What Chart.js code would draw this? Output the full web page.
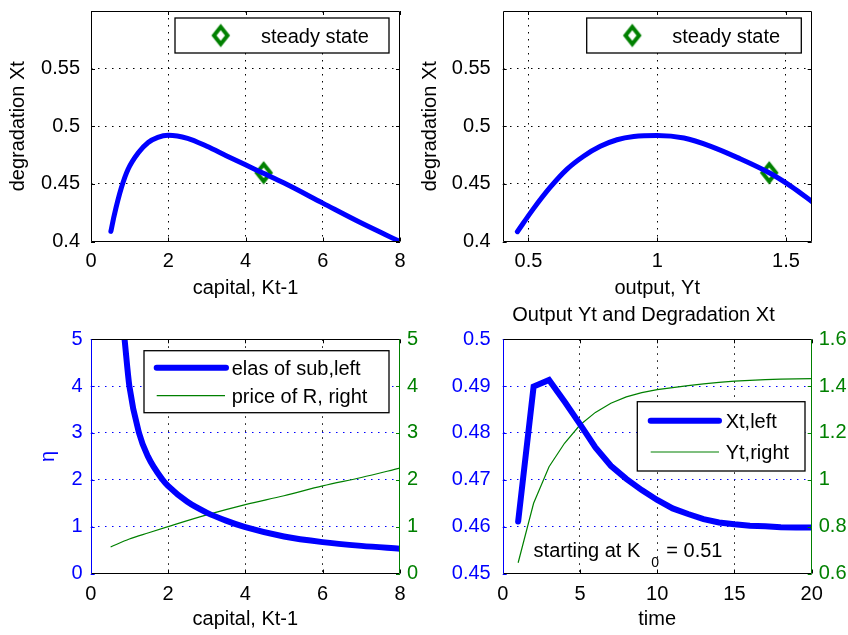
<!DOCTYPE html>
<html><head><meta charset="utf-8">
<script src="https://cdn.jsdelivr.net/npm/chart.js@4.4.1/dist/chart.umd.min.js"></script>
<style>
html,body{margin:0;padding:0;background:#fff;}
body{width:848px;height:635px;position:relative;overflow:hidden}
canvas{position:absolute}
</style></head><body>
<canvas id="c1" width="424" height="300" style="left:0px;top:0px"></canvas>
<canvas id="c2" width="438" height="300" style="left:410px;top:0px"></canvas>
<canvas id="c3" width="424" height="335" style="left:0px;top:300px"></canvas>
<canvas id="c4" width="409" height="335" style="left:439px;top:300px"></canvas>
<script>
// ---------- data ----------
// Panel 1: degradation Xt vs capital Kt-1
const capitalK      = [0.515, 0.6, 0.79, 0.96, 1.22, 1.48, 1.73, 2.0, 2.5, 3.0, 3.5, 4.0, 4.45, 5, 6, 7, 8];
const degradationX  = [0.4088, 0.4225, 0.447, 0.4627, 0.4768, 0.4859, 0.4904, 0.4922, 0.4895, 0.4826, 0.4745, 0.4665, 0.4594, 0.4507, 0.4333, 0.416, 0.4];
const steadyK = [4.47];
const steadyX = [0.4596];
// Panel 2: degradation Xt vs output Yt
const outputY       = [0.457, 0.519, 0.584, 0.649, 0.714, 0.779, 0.844, 0.909, 1.0, 1.104, 1.208, 1.312, 1.435, 1.52, 1.604];
const degradationX2 = [0.4085, 0.4283, 0.4469, 0.4626, 0.474, 0.4826, 0.4883, 0.4911, 0.492, 0.4898, 0.4826, 0.4728, 0.4596, 0.4478, 0.4341];
const steadyY = [1.435];
// Panel 3: elasticity of substitution (left) and price of R (right) vs capital
const etaK   = [0.876, 1.0, 1.25, 1.48, 1.86, 2.0, 2.5, 3.0, 3.5, 4.0, 5.0, 6.0, 7.0, 8.0];
const eta    = [5.0, 4.0, 3.0, 2.5, 2.0, 1.87, 1.53, 1.30, 1.13, 0.99, 0.79, 0.67, 0.59, 0.53];
const priceK = [0.515, 1, 1.5, 2, 3, 4, 5, 6, 7, 8];
const priceR = [0.566, 0.737, 0.87, 1.0, 1.25, 1.47, 1.66, 1.87, 2.05, 2.25];
// Panel 4: time paths
const time = [1,2,3,4,5,6,7,8,9,10,11,12,13,14,15,16,17,18,19,20];
const Xt = [0.4611, 0.4899, 0.4913, 0.4867, 0.4819, 0.4769, 0.4730, 0.4702, 0.4678, 0.4657, 0.4639, 0.4627, 0.4616, 0.4609, 0.4605, 0.4602, 0.4601, 0.4599, 0.4598, 0.4598];
const Yt = [0.646, 0.90, 1.056, 1.156, 1.234, 1.288, 1.327, 1.354, 1.372, 1.385, 1.394, 1.402, 1.41, 1.416, 1.421, 1.425, 1.428, 1.43, 1.431, 1.432];
const annotationT = [2];
const annotationX = [0.4547];

// ---------- tick values / labels ----------
const p1XTicks = [0, 2, 4, 6, 8];            const p1XLabels = ['0','2','4','6','8'];
const p1YTicks = [0.4, 0.45, 0.5, 0.55];     const p1YLabels = ['0.4','0.45','0.5','0.55'];
const p2XTicks = [0.5, 1, 1.5];              const p2XLabels = ['0.5','1','1.5'];
const p3XTicks = [0, 2, 4, 6, 8];            const p3XLabels = ['0','2','4','6','8'];
const p3YTicks = [0, 1, 2, 3, 4, 5];         const p3YLabels = ['0','1','2','3','4','5'];
const p4XTicks = [0, 5, 10, 15, 20];         const p4XLabels = ['0','5','10','15','20'];
const p4YTicks = [0.45, 0.46, 0.47, 0.48, 0.49, 0.5]; const p4YLabels = ['0.45','0.46','0.47','0.48','0.49','0.5'];
const p4Y2Ticks = [0.6, 0.8, 1, 1.2, 1.4, 1.6];      const p4Y2Labels = ['0.6','0.8','1','1.2','1.4','1.6'];

// ---------- styling helpers ----------
const FONT = '"Liberation Sans", Arial, Helvetica, sans-serif';
const BLUE = '#0000ff', GREEN = '#008000';
Chart.defaults.font.family = FONT;
Chart.defaults.font.size = 20;
Chart.defaults.color = '#000';

function diamondSprite() {
  const c = document.createElement('canvas'); c.width = 28; c.height = 32;
  const g = c.getContext('2d');
  g.strokeStyle = GREEN; g.lineWidth = 4; g.lineJoin = 'miter';
  g.beginPath(); g.moveTo(14 - 6.8, 16); g.lineTo(14, 16 - 8.6); g.lineTo(14 + 6.8, 16); g.lineTo(14, 16 + 8.6); g.closePath(); g.stroke();
  return c;
}
const DIAMOND = diamondSprite();

const pts = (xs, ys) => xs.map((x, i) => ({x: x, y: ys[i]}));
const isEdge = (ctx, min, max) => ctx.tick && (Math.abs(ctx.tick.value - min) < 1e-9 || Math.abs(ctx.tick.value - max) < 1e-9);

function xScale(o) {
  return {
    type: 'linear', position: 'bottom', min: o.min, max: o.max,
    afterBuildTicks: s => { s.ticks = o.vals.map(v => ({value: v})); },
    afterFit: s => { s.height = o.h; s.paddingLeft = 0; s.paddingRight = 0; },
    ticks: { callback: (v, i) => o.labels[i], padding: o.pad, color: '#000', autoSkip: false, maxRotation: 0, font: {size: 20} },
    grid: { drawTicks: false, lineWidth: 1, color: ctx => isEdge(ctx, o.min, o.max) ? 'rgba(0,0,0,0)' : '#000' },
    border: { display: false, dash: [1.5, 5.5] },
    title: { display: !!o.title, text: o.title || '', color: '#000', font: {size: 20}, padding: {top: 0, bottom: o.tpad || 0} }
  };
}
function yScale(o) {
  return {
    type: 'linear', position: o.pos || 'left', min: o.min, max: o.max,
    afterBuildTicks: s => { s.ticks = o.vals.map(v => ({value: v})); },
    afterFit: s => { s.width = o.w; s.paddingTop = 0; s.paddingBottom = 0; },
    ticks: { callback: (v, i) => o.labels[i], padding: o.pad, color: o.color || '#000', autoSkip: false, font: {size: 20} },
    grid: { drawTicks: false, lineWidth: 1, drawOnChartArea: o.grid !== false,
            color: ctx => isEdge(ctx, o.min, o.max) ? 'rgba(0,0,0,0)' : (o.gridColor || '#000') },
    border: { display: false, dash: [1.5, 5.5] },
    title: { display: !!o.title, text: o.title || '', color: o.titleColor || '#000', font: {size: 20}, padding: {top: o.tpad || 0, bottom: 0} }
  };
}

// axes box with inward ticks (MATLAB style)
function framePlugin(cfg) {
  return {
    id: 'frame',
    afterDatasetsDraw(chart) {
      const ctx = chart.ctx, a = chart.chartArea, TL = 4;
      const seg = (x1, y1, x2, y2, c) => { ctx.strokeStyle = c; ctx.beginPath(); ctx.moveTo(x1, y1); ctx.lineTo(x2, y2); ctx.stroke(); };
      ctx.save(); ctx.lineWidth = 1; ctx.setLineDash([]);
      const xs = chart.scales.x;
      xs.ticks.forEach(t => { const p = Math.round(xs.getPixelForValue(t.value)) + 0.5;
        seg(p, a.bottom, p, a.bottom - TL, '#000'); seg(p, a.top, p, a.top + TL, '#000'); });
      const yl = chart.scales.y;
      yl.ticks.forEach(t => { const p = Math.round(yl.getPixelForValue(t.value)) + 0.5;
        seg(a.left, p, a.left + TL, p, cfg.left);
        if (!chart.scales.y2) seg(a.right, p, a.right - TL, p, cfg.right); });
      if (chart.scales.y2) { const yr = chart.scales.y2;
        yr.ticks.forEach(t => { const p = Math.round(yr.getPixelForValue(t.value)) + 0.5;
          seg(a.right, p, a.right - TL, p, cfg.right); }); }
      const L = Math.round(a.left) + 0.5, R = Math.round(a.right) - 0.5, T = Math.round(a.top) + 0.5, B = Math.round(a.bottom) - 0.5;
      seg(L, T, R, T, '#000'); seg(L, B, R, B, '#000');
      seg(L, T, L, B, cfg.left); seg(R, T, R, B, cfg.right);
      ctx.restore();
    }
  };
}

// boxed legend (MATLAB style)
function boxLegendPlugin(cfg) {
  return {
    id: 'boxLegend',
    afterDraw(chart) {
      const ctx = chart.ctx, b = cfg.box;
      ctx.save();
      ctx.fillStyle = '#fff'; ctx.fillRect(b[0], b[1], b[2] - b[0], b[3] - b[1]);
      ctx.strokeStyle = '#000'; ctx.lineWidth = 1.3; ctx.setLineDash([]);
      ctx.strokeRect(b[0], b[1], b[2] - b[0], b[3] - b[1]);
      cfg.items.forEach(it => {
        const ds = chart.data.datasets[it.ds];
        if (it.marker) {
          const s = ds.pointStyle; ctx.drawImage(s, it.marker[0] - s.width / 2, it.marker[1] - s.height / 2);
        } else {
          ctx.strokeStyle = ds.borderColor; ctx.lineWidth = ds.borderWidth; ctx.lineCap = ds.borderCapStyle || 'butt';
          ctx.beginPath(); ctx.moveTo(it.line[0], it.line[2]); ctx.lineTo(it.line[1], it.line[2]); ctx.stroke();
        }
        ctx.fillStyle = '#000'; ctx.font = '20px ' + FONT; ctx.textBaseline = 'middle'; ctx.textAlign = 'left';
        ctx.fillText(ds.label, it.text[0], it.text[1]);
      });
      ctx.restore();
    }
  };
}

const annotationPlugin = {
  id: 'k0note',
  afterDraw(chart) {
    const ctx = chart.ctx;
    const px = chart.scales.x.getPixelForValue(annotationT[0]);
    const py = chart.scales.y.getPixelForValue(annotationX[0]);
    ctx.save(); ctx.fillStyle = '#000'; ctx.textBaseline = 'middle'; ctx.textAlign = 'left';
    ctx.font = '20px ' + FONT;
    const main = 'starting at K';
    ctx.fillText(main, px, py);
    const w = ctx.measureText(main).width;
    ctx.font = '14px ' + FONT;
    ctx.fillText('0', px + w + 11, py + 12);
    ctx.font = '20px ' + FONT;
    ctx.fillText('= 0.51', px + w + 26, py);
    ctx.restore();
  }
};

const common = { responsive: false, animation: false, events: [] };
const noPlug = { legend: { display: false }, tooltip: { enabled: false } };

// ---------- Panel 1 ----------
new Chart(document.getElementById('c1'), {
  type: 'scatter',
  data: { datasets: [
    { label: 'degradation Xt', data: pts(capitalK, degradationX), showLine: true, borderColor: BLUE, borderWidth: 5,
      pointRadius: 0, cubicInterpolationMode: 'monotone', borderCapStyle: 'round', borderJoinStyle: 'round' },
    { label: 'steady state', data: pts(steadyK, steadyX), showLine: false, pointStyle: DIAMOND, pointRadius: 10,
      borderColor: GREEN, backgroundColor: 'rgba(0,0,0,0)' }
  ]},
  options: Object.assign({}, common, {
    layout: { padding: { left: 0, top: 7, right: 24, bottom: 0 } },
    scales: {
      x: xScale({ min: 0, max: 8, vals: p1XTicks, labels: p1XLabels, pad: 8.2, h: 58.5, title: 'capital, Kt-1', tpad: 0 }),
      y: yScale({ min: 0.4, max: 0.6, vals: p1YTicks, labels: p1YLabels, pad: 11, w: 91, title: 'degradation Xt', tpad: 6.2 })
    },
    plugins: noPlug
  }),
  plugins: [framePlugin({ left: '#000', right: '#000' }),
            boxLegendPlugin({ box: [175, 18, 389, 53], items: [{ ds: 1, marker: [220.7, 35.5], text: [261, 37.5] }] })]
});

// ---------- Panel 2 ----------
new Chart(document.getElementById('c2'), {
  type: 'scatter',
  data: { datasets: [
    { label: 'degradation Xt', data: pts(outputY, degradationX2), showLine: true, borderColor: BLUE, borderWidth: 5,
      pointRadius: 0, cubicInterpolationMode: 'monotone', borderCapStyle: 'round', borderJoinStyle: 'round' },
    { label: 'steady state', data: pts(steadyY, steadyX), showLine: false, pointStyle: DIAMOND, pointRadius: 10,
      borderColor: GREEN, backgroundColor: 'rgba(0,0,0,0)' }
  ]},
  options: Object.assign({}, common, {
    layout: { padding: { left: 0, top: 7, right: 36.3, bottom: 0 } },
    scales: {
      x: xScale({ min: 0.4, max: 1.6, vals: p2XTicks, labels: p2XLabels, pad: 8.2, h: 58.5, title: 'output, Yt', tpad: 0 }),
      y: yScale({ min: 0.4, max: 0.6, vals: p1YTicks, labels: p1YLabels, pad: 12, w: 92.7, title: 'degradation Xt', tpad: 8.2 })
    },
    plugins: noPlug
  }),
  plugins: [framePlugin({ left: '#000', right: '#000' }),
            boxLegendPlugin({ box: [176.7, 18, 391.3, 53], items: [{ ds: 1, marker: [222.3, 35.5], text: [262.3, 37.5] }] })]
});

// ---------- Panel 3 ----------
new Chart(document.getElementById('c3'), {
  type: 'scatter',
  data: { datasets: [
    { label: 'elas of sub,left', data: pts(etaK, eta), showLine: true, borderColor: BLUE, borderWidth: 6, yAxisID: 'y', clip: 0,
      pointRadius: 0, cubicInterpolationMode: 'monotone', borderCapStyle: 'round', borderJoinStyle: 'round' },
    { label: 'price of R, right', data: pts(priceK, priceR), showLine: true, borderColor: GREEN, borderWidth: 1.2, yAxisID: 'y2',
      pointRadius: 0, cubicInterpolationMode: 'monotone' }
  ]},
  options: Object.assign({}, common, {
    layout: { padding: { left: 0, top: 39.3, right: 0, bottom: 0 } },
    scales: {
      x: xScale({ min: 0, max: 8, vals: p3XTicks, labels: p3XLabels, pad: 8.5, h: 61.5, title: 'capital, Kt-1', tpad: 4 }),
      y: yScale({ min: 0, max: 5, vals: p3YTicks, labels: p3YLabels, pad: 8, w: 90.7, color: BLUE, gridColor: BLUE,
                  title: 'η', titleColor: BLUE, tpad: 36.7 }),
      y2: yScale({ pos: 'right', min: 0, max: 5, vals: p3YTicks, labels: p3YLabels, pad: 7, w: 24, color: GREEN, grid: false })
    },
    plugins: noPlug
  }),
  plugins: [framePlugin({ left: BLUE, right: GREEN }),
            boxLegendPlugin({ box: [144, 50.7, 389, 112.7], items: [
              { ds: 0, line: [156.7, 226, 67.7], text: [231.7, 69] },
              { ds: 1, line: [156.7, 225, 95.7], text: [231.7, 97] }] })]
});

// ---------- Panel 4 ----------
new Chart(document.getElementById('c4'), {
  type: 'scatter',
  data: { datasets: [
    { label: 'Xt,left', data: pts(time, Xt), showLine: true, borderColor: BLUE, borderWidth: 6, yAxisID: 'y',
      pointRadius: 0, tension: 0, borderCapStyle: 'round', borderJoinStyle: 'miter' },
    { label: 'Yt,right', data: pts(time, Yt), showLine: true, borderColor: GREEN, borderWidth: 1.2, yAxisID: 'y2',
      pointRadius: 0, tension: 0 }
  ]},
  options: Object.assign({}, common, {
    layout: { padding: { left: 0, top: 0, right: 0, bottom: 0 } },
    scales: {
      x: xScale({ min: 0, max: 20, vals: p4XTicks, labels: p4XLabels, pad: 9, h: 61.5, title: 'time', tpad: 3.3 }),
      y: yScale({ min: 0.45, max: 0.5, vals: p4YTicks, labels: p4YLabels, pad: 12, w: 63.7, color: BLUE, gridColor: BLUE }),
      y2: yScale({ pos: 'right', min: 0.6, max: 1.6, vals: p4Y2Ticks, labels: p4Y2Labels, pad: 7, w: 36.3, color: GREEN, grid: false })
    },
    plugins: Object.assign({}, noPlug, {
      title: { display: true, text: 'Output Yt and Degradation Xt', color: '#000', font: { size: 20, weight: 'normal' },
               padding: { top: 3, bottom: 12.3 } }
    })
  }),
  plugins: [framePlugin({ left: BLUE, right: GREEN }), annotationPlugin,
            boxLegendPlugin({ box: [198.3, 101.7, 366, 171], items: [
              { ds: 0, line: [211.7, 280, 120.7], text: [286.7, 122] },
              { ds: 1, line: [211.7, 280, 152], text: [286.7, 153] }] })]
});
</script>
</body></html>
